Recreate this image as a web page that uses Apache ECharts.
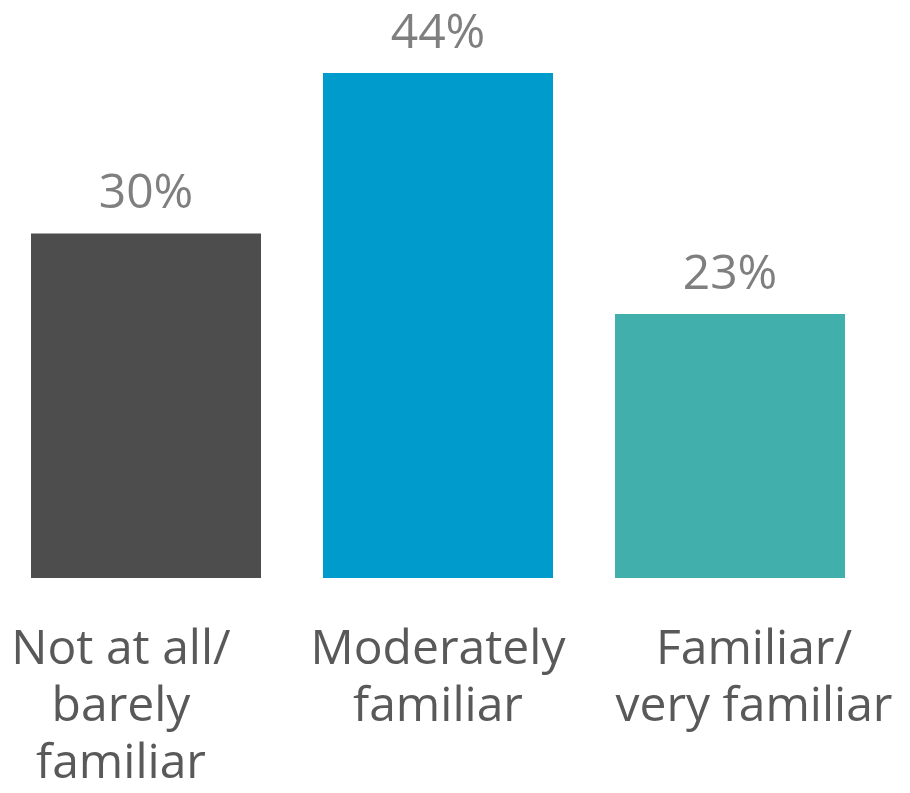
<!DOCTYPE html>
<html><head><meta charset="utf-8">
<script src="https://cdn.jsdelivr.net/npm/echarts@6/dist/echarts.min.js"></script>
<style>html,body{margin:0;padding:0;background:#fff}#c{width:910px;height:793px}</style>
</head><body><div id="c"></div>
<script>
const categories = ['Not at all/\nbarely\nfamiliar', 'Moderately\nfamiliar', 'Familiar/\nvery familiar'];
const values = [30, 44, 23];
const colors = ['#4d4d4d', '#009bcd', '#41b0ad'];
const labelPads = [[0, 50, 0, 0], [0, 0, 0, 0], [0, 0, 0, 48]];

const chart = echarts.init(document.getElementById('c'));
chart.setOption({
  animation: false,
  grid: { left: 0, right: 34, top: 4, bottom: 210, containLabel: false },
  xAxis: {
    type: 'category',
    data: categories.map((c, i) => ({ value: c, textStyle: { padding: labelPads[i] } })),
    axisLine: { show: false }, axisTick: { show: false },
    axisLabel: { fontFamily: 'Open Sans', fontSize: 48, lineHeight: 57, color: '#595959', margin: 44, interval: 0 }
  },
  yAxis: { type: 'value', min: 0, max: 50, show: false, splitLine: { show: false } },
  series: [{
    type: 'bar', barWidth: 230,
    data: values.map((v, i) => ({ value: v, itemStyle: { color: colors[i] } })),
    label: { show: true, position: 'top', distance: 15, formatter: '{c}%', fontFamily: 'Open Sans', fontSize: 48, color: '#7f7f7f' }
  }]
});
</script></body></html>
